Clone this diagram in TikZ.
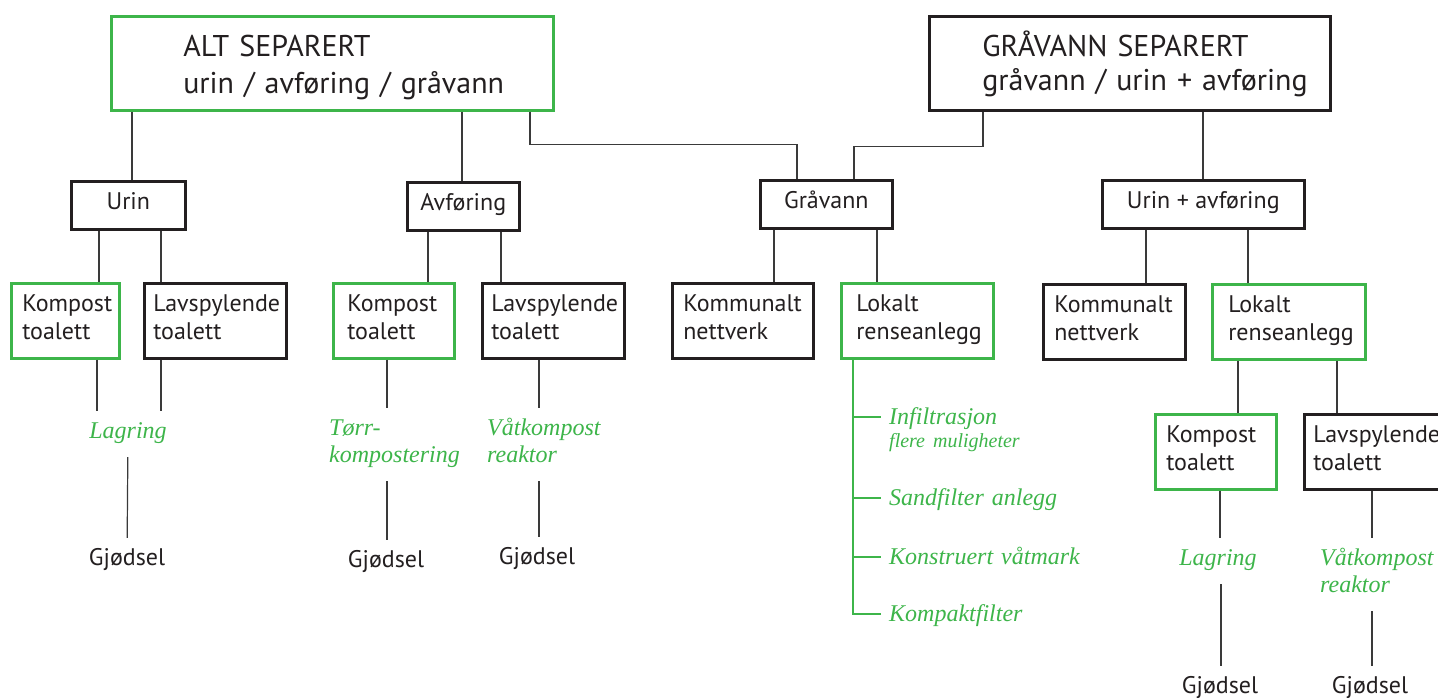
\documentclass[tikz,border=0pt]{standalone}
\usepackage{fontspec}
\setmainfont{PT Sans}
\newfontfamily\notefont{Liberation Serif}
\usepackage{tikz}
\definecolor{SortGreen}{HTML}{3DB54A}
\definecolor{SortInk}{HTML}{231F20}
\definecolor{SortLine}{HTML}{3A3A3A}

\begin{document}
\begin{tikzpicture}[
  x=1pt, y=-1pt,
  box/.style={draw=SortInk, line width=2.6pt, fill=white, anchor=north west, inner sep=0pt,
    minimum height=48pt, align=center, text height=16pt, text depth=8pt,
    font=\fontsize{24}{28}\selectfont, text=SortInk},
  gbox/.style={box, draw=SortGreen},
  twoline/.style 2 args={box, minimum height=75pt, text width=#1, align=left,
    text height=19pt, text depth=38pt, execute at begin node={\leftskip=#2}},
  head/.style 2 args={box, minimum height=94pt, text width=#1, align=left,
    text height=24pt, text depth=38pt, execute at begin node={\leftskip=#2}},
  note/.style={inner xsep=0pt, inner ysep=11pt, text height=16pt, text depth=8pt,
    font=\notefont\itshape\fontsize{24}{27}\selectfont, text=SortGreen},
  yield/.style={inner xsep=0pt, inner ysep=11pt, text height=16pt, text depth=8pt,
    font=\fontsize{24}{28}\selectfont, text=SortInk},
  opt/.style={anchor=west, inner xsep=8pt, inner ysep=0pt, text width=230pt, align=left,
    text height=16pt, text depth=2pt,
    font=\notefont\itshape\fontsize{24}{24}\selectfont, text=SortGreen},
  link/.style={draw=SortLine, line width=1.2pt},
  glink/.style={draw=SortGreen, line width=1.3pt}
]
  \useasboundingbox (0,0) rectangle (1438,698);
  \fill[white] (0,0) rectangle (1438,698);

  % two ways of separating
  \node[head={442pt}{72pt}, draw=SortGreen, font=\fontsize{30}{37}\selectfont] (altsep) at (110,15)
    {ALT SEPARERT\\urin / avføring / gråvann};
  \node[head={401pt}{53pt}, font=\fontsize{30}{34}\selectfont] (grasep) at (928,15)
    {GRÅVANN SEPARERT\\gråvann / urin + avføring};

  % fractions
  \node[box, minimum width=114pt] (urin) at (70,180) {Urin};
  \node[box, minimum width=112pt] (avf) at (406,181) {Avføring};
  \node[box, minimum width=132pt] (gra) at (759,179) {Gråvann};
  \node[box, minimum width=202pt] (uravf) at (1101,179) {Urin + avføring};

  % toilets and treatment
  \node[twoline={108pt}{11pt}, draw=SortGreen] (urkomp) at (10,282) {Kompost\\toalett};
  \node[twoline={142pt}{9pt}] (urlav) at (143,282) {Lavspylende\\toalett};
  \node[twoline={121pt}{14pt}, draw=SortGreen] (avkomp) at (332,282) {Kompost\\toalett};
  \node[twoline={142pt}{9pt}] (avlav) at (481,282) {Lavspylende\\toalett};
  \node[twoline={141pt}{11pt}] (grkomm) at (671,282) {Kommunalt\\nettverk};
  \node[twoline={152pt}{15pt}, draw=SortGreen] (grrens) at (840,282) {Lokalt\\renseanlegg};
  \node[twoline={142pt}{11pt}] (uakomm) at (1042,283) {Kommunalt\\nettverk};
  \node[twoline={153pt}{16pt}, draw=SortGreen] (uarens) at (1211,283) {Lokalt\\renseanlegg};
  \node[twoline={121pt}{11pt}, draw=SortGreen] (rskomp) at (1154,413) {Kompost\\toalett};
  \node[twoline={150pt}{9pt}] (rslav) at (1303,413) {Lavspylende\\toalett};

  % processing and end product
  \node[note, anchor=base] (urlag) at (128,438) {Lagring};
  \node[yield, anchor=base] (urgj) at (127,565) {Gjødsel};
  \node[note, anchor=base west, text width=140pt, align=left, text depth=35pt] (avtorr) at (329,435)
    {Tørr-\\kompostering};
  \node[yield, anchor=base] (avtorrgj) at (386,567) {Gjødsel};
  \node[note, anchor=base west, text width=140pt, align=left, text depth=35pt] (avvat) at (487,435)
    {Våtkompost\\reaktor};
  \node[yield, anchor=base] (avvatgj) at (537,564) {Gjødsel};
  \node[note, anchor=base] (rslag) at (1218,565) {Lagring};
  \node[yield, anchor=base] (rslaggj) at (1220,693) {Gjødsel};
  \node[note, anchor=base west, text width=140pt, align=left, text depth=35pt] (rsvat) at (1320,565)
    {Våtkompost\\reaktor};
  \node[yield, anchor=base] (rsvatgj) at (1370,693) {Gjødsel};

  % local treatment options
  \node[opt] (infil) at (881,417) {Infiltrasjon\\[-1pt]{\fontsize{20}{24}\selectfont flere muligheter}};
  \node[opt] (sand) at (881,498) {Sandfilter anlegg};
  \node[opt] (vatmark) at (881,557) {Konstruert våtmark};
  \node[opt] (kompakt) at (881,614) {Kompaktfilter};

  % tree lines
  \draw[link] (altsep.south -| 132,0) -- (urin.north -| 132,0);
  \draw[link] (altsep.south -| 462,0) -- (avf.north -| 462,0);
  \draw[link] (altsep.south -| 530,0) -- ++(0,33) -| (gra.north -| 797,0);
  \draw[link] (grasep.south -| 983,0) -- ++(0,35) -| (gra.north -| 854,0);
  \draw[link] (grasep.south -| 1203,0) -- (uravf.north -| 1203,0);

  \draw[link] (urin.south -| 99,0) -- (urkomp.north -| 99,0);
  \draw[link] (urin.south -| 161,0) -- (urlav.north -| 161,0);
  \draw[link] (avf.south -| 428,0) -- (avkomp.north -| 428,0);
  \draw[link] (avf.south -| 501,0) -- (avlav.north -| 501,0);
  \draw[link] (gra.south -| 774,0) -- (grkomm.north -| 774,0);
  \draw[link] (gra.south -| 877,0) -- (grrens.north -| 877,0);
  \draw[link] (uravf.south -| 1146,0) -- (uakomm.north -| 1146,0);
  \draw[link] (uravf.south -| 1248,0) -- (uarens.north -| 1248,0);
  \draw[link] (uarens.south -| 1238,0) -- (rskomp.north -| 1238,0);
  \draw[link] (uarens.south -| 1337,0) -- (rslav.north -| 1337,0);

  \draw[link] (urkomp.south -| 97,0) -- (urlag.north -| 97,0);
  \draw[link] (urlav.south -| 161,0) -- (urlag.north -| 161,0);
  \draw[link] (urlag) -- (urgj);
  \draw[link] (avkomp.south -| 387,0) -- (avtorr.north -| 387,0);
  \draw[link] (avtorr.south -| 387,0) -- (avtorrgj.north -| 387,0);
  \draw[link] (avlav.south -| 539,0) -- (avvat.north -| 539,0);
  \draw[link] (avvat.south -| 539,0) -- (avvatgj.north -| 539,0);
  \draw[link] (rskomp.south -| 1220,0) -- (rslag.north -| 1220,0);
  \draw[link] (rslag.south -| 1221,0) -- (rslaggj.north -| 1221,0);
  \draw[link] (rslav.south -| 1372,0) -- (rsvat.north -| 1372,0);
  \draw[link] (rsvat.south -| 1372,0) -- (rsvatgj.north -| 1372,0);

  \draw[glink] (grrens.south -| 853,0) |- (kompakt.west);
  \draw[glink] (infil.west -| 853,0) -- (infil.west);
  \draw[glink] (sand.west -| 853,0) -- (sand.west);
  \draw[glink] (vatmark.west -| 853,0) -- (vatmark.west);
\end{tikzpicture}
\end{document}
